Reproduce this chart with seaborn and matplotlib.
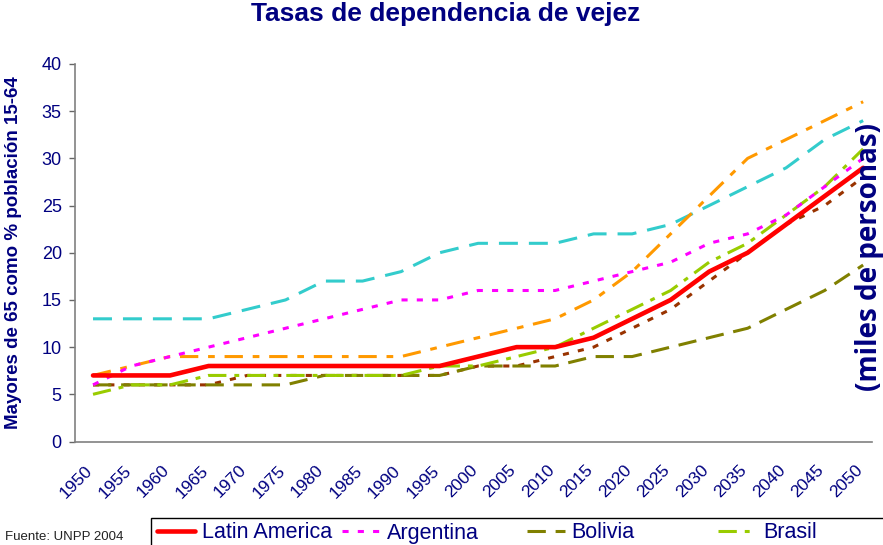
import numpy as np
import pandas as pd
import seaborn as sns
import matplotlib.pyplot as plt
from matplotlib.patches import Rectangle
from matplotlib.ticker import FixedLocator
from matplotlib.transforms import ScaledTranslation

# datos (tasas de dependencia de vejez, %)
anios = list(range(1950, 2051, 5))
latin_america = [7, 7, 7, 8, 8, 8, 8, 8, 8, 8, 9, 10, 10, 11, 13, 15, 18, 20, 23, 26, 29]
argentina = [6, 8, 9, 10, 11, 12, 13, 14, 15, 15, 16, 16, 16, 17, 18, 19, 21, 22, 24, 27, 30]
bolivia = [6, 6, 6, 6, 6, 6, 7, 7, 7, 7, 8, 8, 8, 9, 9, 10, 11, 12, 14, 16, 18.7]
brasil = [5, 6, 6, 7, 7, 7, 7, 7, 7, 8, 8, 9, 10, 12, 14, 16, 19, 21, 24, 27, 31]
chile = [7, 8, 9, 9, 9, 9, 9, 9, 9, 10, 11, 12, 13, 15, 18, 22, 26, 30, 32, 34, 36]
uruguay = [13, 13, 13, 13, 14, 15, 17, 17, 18, 20, 21, 21, 21, 22, 22, 23, 25, 27, 29, 32, 34]
mexico = [6, 6, 6, 6, 7, 7, 7, 7, 7, 7, 8, 8, 9, 10, 12, 14, 17, 20, 23, 25, 28]

paises = ['Uruguay', 'Chile', 'México', 'Bolivia', 'Brasil', 'Argentina', 'Latin America']
series = [uruguay, chile, mexico, bolivia, brasil, argentina, latin_america]

df = pd.DataFrame({
    'anio': np.tile(anios, len(paises)),
    'pais': np.repeat(paises, len(anios)),
    'valor': np.concatenate(series),
})

navy = '#000080'
colores = {'Latin America': '#FF0000', 'Argentina': '#FF00FF', 'Bolivia': '#808000',
           'Brasil': '#99CC00', 'Chile': '#FF9900', 'Uruguay': '#33CCCC', 'México': '#993300'}
trazos = {'Latin America': '', 'Argentina': (2, 3), 'Bolivia': (6, 3.2),
          'Brasil': (6, 2.6, 1.6, 2.6), 'Chile': (6, 3.2, 2.2, 3.2),
          'Uruguay': (6.2, 3.6), 'México': (2, 3)}
grosores = {p: 2.2 for p in paises}
grosores['Latin America'] = 3.3

sns.set_style('white')
plt.rcParams['font.family'] = ['Liberation Sans', 'DejaVu Sans']

fig = plt.figure(figsize=(8.83, 5.45), dpi=100)
ax = fig.add_axes([75 / 883, 103.5 / 545, 797 / 883, 377.5 / 545])

sns.lineplot(data=df, x='anio', y='valor', hue='pais', style='pais', size='pais',
             hue_order=paises, style_order=paises, size_order=paises,
             palette=colores, dashes=trazos, sizes=grosores,
             legend=False, errorbar=None, ax=ax)

ax.set_xlim(1947.66, 2051.15)
ax.set_ylim(0, 40)
ax.set_yticks(range(0, 41, 5))
ax.set_xticks(anios)
ax.set_xticklabels([str(a) for a in anios], rotation=45, ha='right',
                   va='center', rotation_mode='anchor')
ax.xaxis.set_minor_locator(FixedLocator([a - 2.5 for a in anios]))
ax.tick_params(axis='x', which='major', length=0, pad=19, labelsize=12.5, labelcolor=navy)
ax.tick_params(axis='x', which='minor', length=4.5, width=1, color='#666666', direction='out')
ax.tick_params(axis='y', length=4.5, width=1, color='#666666', direction='out',
               pad=5, labelsize=13, labelcolor=navy, left=True)
for lab in ax.get_xticklabels():
    lab.set_transform(lab.get_transform() + ScaledTranslation(-3 / 100, 0, fig.dpi_scale_trans))

sns.despine(ax=ax)
for s in ['left', 'bottom']:
    ax.spines[s].set_color('#808080')
    ax.spines[s].set_linewidth(1.2)

ax.set_xlabel('')
ax.set_ylabel('Mayores de 65 como % población 15-64', fontsize=13.5,
              fontweight='bold', color=navy)
ax.yaxis.set_label_coords(-0.066, 0.5)

fig.text(446 / 883, 1 - 21 / 545, 'Tasas de dependencia de vejez', ha='center',
         va='baseline', fontsize=19, fontweight='bold', color=navy)
fig.text(870 / 883, 0.528, '(miles de personas)', rotation=90, ha='center', va='center',
         fontsize=20, fontweight='bold', color=navy, family=['Open Sans', 'DejaVu Sans'])
fig.text(5 / 883, (545 - 537) / 545, 'Fuente: UNPP 2004', ha='left', va='center',
         fontsize=9.5, color='#222222')

# leyenda: entradas con ancho fijo como en Excel
lineas = ax.get_lines()
entradas = [('Latin America', 156.7), ('Argentina', 341.7), ('Bolivia', 526.5), ('Brasil', 718)]
for nombre, xpix in entradas:
    h = lineas[paises.index(nombre)]
    fig.legend([h], [nombre], loc='center left', bbox_to_anchor=(xpix / 883, 12 / 545),
               frameon=False, borderpad=0, borderaxespad=0, handlelength=1.8,
               handletextpad=0.3, fontsize=15.5, labelcolor=navy)
fig.add_artist(Rectangle((150.7 / 883, -0.05), 1.0, (545 - 517.7) / 545 + 0.05,
                         transform=fig.transFigure, fill=False, edgecolor='black', linewidth=1))

fig.savefig('out.png', dpi=100)
